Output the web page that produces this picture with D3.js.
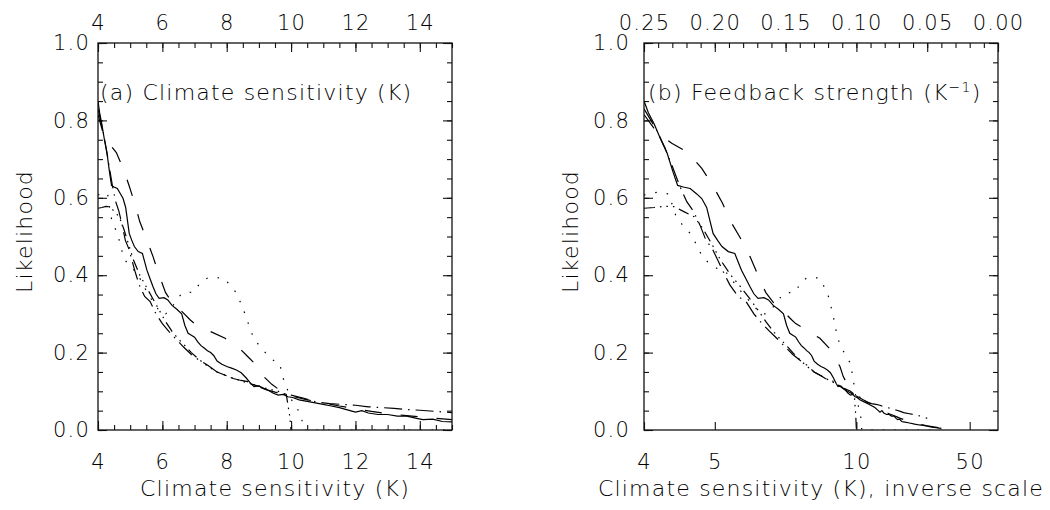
<!DOCTYPE html>
<html>
<head>
<meta charset="utf-8">
<script src="https://cdn.jsdelivr.net/npm/d3@7"></script>
<style>
  body { margin: 0; background: #fff; }
  text { font-family: "DejaVu Sans", sans-serif; font-weight: 200; font-size: 22px; fill: #000; letter-spacing: 1.2px; }
</style>
</head>
<body>
<div id="chart"></div>
<script>
// climate sensitivity (K) and likelihood, one pair of arrays per curve
const solidS = [4.00,4.05,4.12,4.20,4.28,4.36,4.42,4.50,4.60,4.70,4.78,4.86,4.97,5.05,5.13,5.25,5.38,5.52,5.62,5.71,5.80,5.90,6.05,6.17,6.30,6.45,6.60,6.70,6.80,6.90,7.00,7.10,7.20,7.30,7.40,7.50,7.60,7.70,7.85,8.00,8.15,8.30,8.45,8.60,8.75,8.85,9.00,9.15,9.30,9.45,9.60,9.75,9.90,10.05,10.25,10.50,10.75,11.00,11.25,11.50,11.75,12.00,12.20,12.40,12.70,13.00,13.30,13.60,13.90,14.10,14.40,14.70,15.00,16.00,17.00,18.00,19.00,20.00,21.00,22.00,23.00,24.00,25.00];
const solidL = [0.850,0.820,0.790,0.750,0.715,0.665,0.632,0.628,0.624,0.610,0.598,0.575,0.508,0.490,0.474,0.461,0.456,0.413,0.390,0.370,0.352,0.340,0.342,0.336,0.322,0.312,0.300,0.270,0.250,0.245,0.240,0.228,0.218,0.212,0.205,0.200,0.192,0.178,0.170,0.164,0.160,0.155,0.148,0.135,0.120,0.112,0.114,0.108,0.102,0.095,0.090,0.092,0.086,0.084,0.078,0.074,0.070,0.066,0.062,0.058,0.052,0.046,0.050,0.044,0.040,0.040,0.036,0.036,0.030,0.027,0.028,0.022,0.021,0.018,0.015,0.013,0.012,0.010,0.008,0.007,0.006,0.005,0.004];

const longDashS = [4.00,4.15,4.34,4.57,4.78,4.96,5.14,5.30,5.52,5.71,5.90,6.10,6.30,6.50,6.86,7.00,7.40,7.95,8.40,8.65,8.96,9.15,9.40,9.70,10.00,10.50,11.00,11.50,12.00,12.50,13.00,13.50,14.00,14.50,15.00,16.00,17.00,18.00,19.00,20.00,22.00,24.00,25.00];
const longDashL = [0.815,0.770,0.741,0.717,0.676,0.633,0.586,0.538,0.491,0.448,0.400,0.355,0.330,0.315,0.285,0.275,0.258,0.237,0.211,0.190,0.164,0.138,0.118,0.100,0.088,0.078,0.070,0.062,0.055,0.048,0.042,0.038,0.034,0.030,0.027,0.022,0.018,0.015,0.013,0.011,0.008,0.006,0.004];

const dashDotS = [4.00,4.08,4.16,4.25,4.35,4.45,4.55,4.65,4.75,4.85,4.95,5.05,5.15,5.28,5.45,5.62,5.80,6.00,6.20,6.40,6.65,6.90,7.15,7.40,7.70,8.00,8.20,8.45,8.65,8.90,9.20,9.50,9.80,10.00,10.40,10.80,11.20,11.60,12.00,12.40,12.80,13.20,13.60,14.00,14.50,15.00,16.00,17.50,19.00,20.00];
const dashDotL = [0.830,0.800,0.770,0.730,0.680,0.630,0.590,0.565,0.530,0.490,0.470,0.440,0.410,0.375,0.345,0.332,0.300,0.275,0.255,0.237,0.215,0.195,0.180,0.168,0.150,0.140,0.133,0.128,0.125,0.115,0.105,0.098,0.092,0.090,0.082,0.072,0.068,0.066,0.064,0.060,0.058,0.056,0.053,0.051,0.048,0.045,0.042,0.038,0.034,0.030];

const dottedS = [4.00,4.15,4.30,4.40,4.50,4.60,4.70,4.80,5.00,5.20,5.40,5.60,5.82,5.95,6.10,6.20,6.40,6.60,6.80,7.00,7.17,7.43,7.90,8.10,8.31,8.45,8.60,8.72,8.86,9.05,9.25,9.45,9.65,9.72,9.85,9.95,10.12,10.30,10.40,25.00];
const dottedL = [0.607,0.614,0.610,0.551,0.527,0.508,0.478,0.444,0.420,0.409,0.375,0.345,0.319,0.300,0.300,0.306,0.330,0.353,0.355,0.357,0.381,0.394,0.393,0.375,0.353,0.325,0.293,0.263,0.233,0.215,0.195,0.180,0.172,0.140,0.115,0.086,0.065,0.040,0.000,0.000];

const dash3S = [4.00,4.12,4.25,4.38,4.50,4.66,4.80,4.95,5.10,5.30,5.50,5.70,5.90,6.10,6.30,6.50,6.70,6.90,7.10,7.40,7.70,8.00,8.40,8.80,9.20,9.60,9.85,9.95,10.00];
const dash3L = [0.573,0.575,0.578,0.577,0.565,0.551,0.520,0.480,0.440,0.400,0.370,0.340,0.310,0.280,0.255,0.235,0.218,0.200,0.185,0.165,0.150,0.140,0.128,0.118,0.108,0.100,0.092,0.040,0.000];

// ticks
const yMajor = [0, 0.2, 0.4, 0.6, 0.8, 1.0];
const xMajorA = [4, 6, 8, 10, 12, 14];
const lamMajor = [0.25, 0.20, 0.15, 0.10, 0.05, 0.00];
const sensTicksB = [4, 5, 10, 50];

const series = [
    {s: solidS, l: solidL, dash: null},
    {s: longDashS, l: longDashL, dash: "17,19"},
    {s: dashDotS, l: dashDotL, dash: "18,6,1.5,6"},
    {s: dottedS, l: dottedL, dash: "1.5,10"},
    {s: dash3S, l: dash3L, dash: "11,5,1.5,5,1.5,5,1.5,5"}
];

const width = 354, height = 387;

const svg = d3.select("#chart").append("svg")
    .attr("width", 1050)
    .attr("height", 510);

const y = d3.scaleLinear().domain([0, 1]).range([height, 0]);
const xa = d3.scaleLinear().domain([4, 15]).range([0, width]);
const xb = d3.scaleLinear().domain([0.25, 0]).range([0, width]);

function frameAndY(g, id, labelPad) {
    g.append("clipPath").attr("id", id)
        .append("rect").attr("width", width).attr("height", height);

    g.append("g").call(d3.axisLeft(y).tickValues(yMajor).tickSize(-9).tickSizeOuter(0)
        .tickPadding(labelPad).tickFormat(d3.format(".1f")));
    g.append("g").call(d3.axisLeft(y).tickValues(d3.range(0, 1.001, 0.05)).tickSize(-5)
        .tickSizeOuter(0).tickFormat(""));
    g.append("g").attr("transform", `translate(${width},0)`)
        .call(d3.axisRight(y).tickValues(yMajor).tickSize(-9).tickSizeOuter(0).tickFormat(""));
    g.append("g").attr("transform", `translate(${width},0)`)
        .call(d3.axisRight(y).tickValues(d3.range(0, 1.001, 0.05)).tickSize(-5)
        .tickSizeOuter(0).tickFormat(""));

    g.append("text")
        .attr("transform", `translate(-66,${height / 2 - 5}) rotate(-90)`)
        .attr("text-anchor", "middle")
        .text("Likelihood");
}

function drawLines(g, id, xOf) {
    const line = d3.line().x(d => xOf(d[0])).y(d => y(d[1]));
    const lg = g.append("g").attr("clip-path", `url(#${id})`);
    series.forEach(sr => {
        lg.append("path")
            .datum(sr.s.map((s, i) => [s, sr.l[i]]))
            .attr("d", line)
            .attr("fill", "none")
            .attr("stroke", "#000")
            .attr("stroke-width", 1.2)
            .attr("stroke-dasharray", sr.dash);
    });
}

function tidy(g) {
    g.selectAll(".domain").remove();
    g.selectAll(".tick line").attr("stroke", "#111").attr("stroke-width", 1.1);
    g.selectAll(".tick text").attr("fill", "#000").style("font-size", "21px")
        .attr("font-family", null);
    g.append("rect").attr("width", width).attr("height", height)
        .attr("fill", "none").attr("stroke", "#111").attr("stroke-width", 1.3);
}

// panel (a)
const ga = svg.append("g").attr("transform", "translate(98,43)");
frameAndY(ga, "clipA", 8);
ga.append("g").attr("transform", `translate(0,${height})`)
    .call(d3.axisBottom(xa).tickValues(xMajorA).tickSize(-9).tickSizeOuter(0).tickPadding(24));
ga.append("g").attr("transform", `translate(0,${height})`)
    .call(d3.axisBottom(xa).tickValues(d3.range(4, 15.01, 0.5)).tickSize(-5).tickSizeOuter(0).tickFormat(""));
ga.append("g")
    .call(d3.axisTop(xa).tickValues(xMajorA).tickSize(-9).tickSizeOuter(0).tickPadding(13));
ga.append("g")
    .call(d3.axisTop(xa).tickValues(d3.range(4, 15.01, 0.5)).tickSize(-5).tickSizeOuter(0).tickFormat(""));
drawLines(ga, "clipA", s => xa(s));
tidy(ga);
ga.append("text").attr("x", 2).attr("y", 57).text("(a) Climate sensitivity (K)");
ga.append("text").attr("x", width / 2).attr("y", 453).attr("text-anchor", "middle")
    .text("Climate sensitivity (K)");

// panel (b)
const gb = svg.append("g").attr("transform", "translate(644,43)");
frameAndY(gb, "clipB", 14);
gb.append("g").attr("transform", `translate(0,${height})`)
    .call(d3.axisBottom(xb).tickValues(sensTicksB.map(s => 1 / s)).tickSize(-8).tickSizeOuter(0)
    .tickPadding(24).tickFormat(d => d3.format("d")(Math.round(1 / d))));
gb.append("g")
    .call(d3.axisTop(xb).tickValues(lamMajor).tickSize(-9).tickSizeOuter(0)
    .tickPadding(13).tickFormat(d3.format(".2f")));
gb.append("g")
    .call(d3.axisTop(xb).tickValues(d3.range(0, 0.2501, 0.01)).tickSize(-5).tickSizeOuter(0).tickFormat(""));
drawLines(gb, "clipB", s => xb(1 / s));
tidy(gb);
const lb = gb.append("text").attr("x", 4).attr("y", 57);
lb.append("tspan").text("(b) Feedback strength (K");
lb.append("tspan").attr("baseline-shift", "super").style("font-size", "14px").text("\u22121");
lb.append("tspan").text(")");
gb.append("text").attr("x", width / 2).attr("y", 453).attr("text-anchor", "middle")
    .text("Climate sensitivity (K), inverse scale");
</script>
</body>
</html>
